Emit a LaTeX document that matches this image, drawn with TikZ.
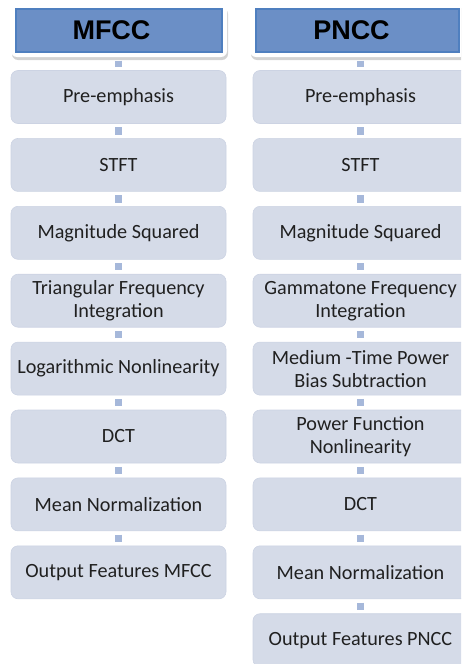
\documentclass[tikz,border=0pt]{standalone}
\usepackage{fontspec}
\setmainfont{Carlito}
\newfontfamily\headfont{Liberation Sans}
\usetikzlibrary{shadows}
\definecolor{boxc}{HTML}{D5DBE8}
\definecolor{boxb}{HTML}{CCD3E3}
\definecolor{headfill}{HTML}{6B8FC6}
\definecolor{headline}{HTML}{4F7FBF}
\definecolor{conc}{HTML}{A6B8DA}
\definecolor{txt}{HTML}{202020}
\tikzset{
  stepbox/.style={draw=boxb, line width=0.6pt, fill=boxc, rounded corners=7pt,
    minimum width=215pt, minimum height=53pt, inner sep=0pt, align=center,
    text=txt, font=\fontsize{20.2}{23}\selectfont},
  conn/.style={draw=conc, line width=7pt, shorten <=3.5pt, shorten >=3.5pt},
  whitebox/.style={fill=white, rounded corners=6pt, drop shadow={shadow xshift=1pt, shadow yshift=-3pt, opacity=0.35}},
  bluebox/.style={fill=headfill, draw=headline, line width=1.8pt},
  headtext/.style={font=\headfont\bfseries\fontsize{27}{30}\selectfont, text=black, inner sep=0pt}
}
\begin{document}
\begin{tikzpicture}[x=1pt,y=-1pt]
\useasboundingbox (0,0) rectangle (461,664);
\clip (0,0) rectangle (461,664);
% headers
\path[whitebox] (11,5) rectangle (227,57);
\path[bluebox] (16,9) rectangle (222,52);
\node[headtext] (hm) at (111.5,30) {MFCC};
\path[whitebox] (250,5) rectangle (466,57);
\path[bluebox] (256,9) rectangle (459,52);
\node[headtext] (hp) at (351.5,30) {PNCC};
% left column
\foreach \t [count=\i from 0] in {Pre-emphasis, STFT, Magnitude Squared, {Triangular Frequency\\Integration}, Logarithmic Nonlinearity, DCT, Mean Normalization, Output Features MFCC}
  \node[stepbox] (L\i) at (118.5, 97+67.9*\i) {\t};
% right column
\foreach \t [count=\i from 0] in {Pre-emphasis, STFT, Magnitude Squared, {Gammatone Frequency\\Integration}, {Medium -Time Power\\Bias Subtraction}, {Power Function\\Nonlinearity}, DCT, Mean Normalization, Output Features PNCC}
  \node[stepbox] (R\i) at (360.5, 97+67.9*\i) {\t};
% connectors
\coordinate (hmb) at (118.5,57);
\coordinate (hpb) at (360.5,57);
\draw[conn] (hmb) -- (L0.north);
\draw[conn] (hpb) -- (R0.north);
\foreach \a/\b in {0/1,1/2,2/3,3/4,4/5,5/6,6/7}
  \draw[conn] (L\a.south) -- (L\b.north);
\foreach \a/\b in {0/1,1/2,2/3,3/4,4/5,5/6,6/7,7/8}
  \draw[conn] (R\a.south) -- (R\b.north);
\end{tikzpicture}
\end{document}
